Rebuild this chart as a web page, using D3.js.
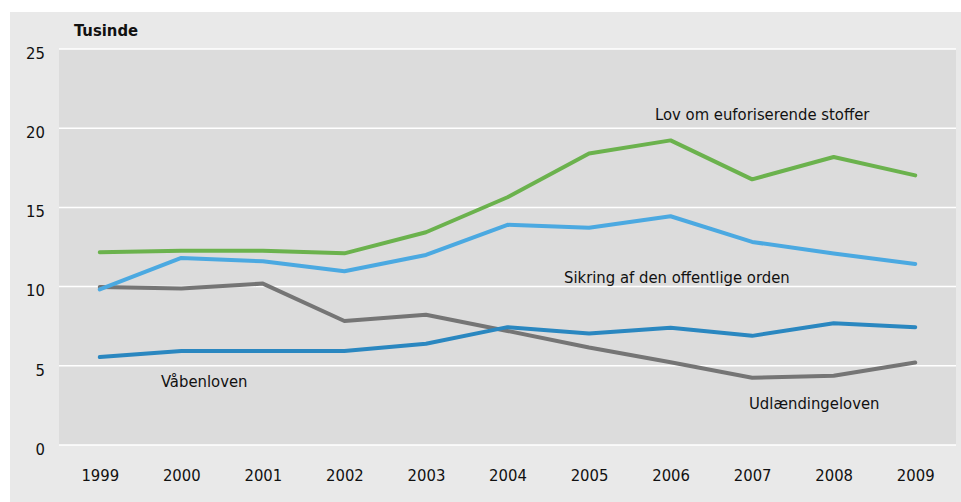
<!DOCTYPE html>
<html>
<head>
<meta charset="utf-8">
<script src="https://cdn.jsdelivr.net/npm/d3@7"></script>
<style>
  body { margin: 0; background: #fff; }
  svg text { font-family: "Liberation Sans Narrow", "DejaVu Sans Condensed", "Liberation Sans", sans-serif; fill: #111; }
</style>
</head>
<body>
<div id="chart"></div>
<script>
// years on the x axis
var years = ["1999","2000","2001","2002","2003","2004","2005","2006","2007","2008","2009"];
var yTicks = [0, 5, 10, 15, 20, 25];

// values in thousands
var euforiserende = [12.17, 12.27, 12.27, 12.1, 13.43, 15.64, 18.4, 19.23, 16.77, 18.18, 17.02];
var offentligOrden = [9.82, 11.81, 11.6, 10.97, 12.0, 13.9, 13.72, 14.44, 12.82, 12.09, 11.43];
var udlaendinge = [9.98, 9.88, 10.19, 7.83, 8.22, 7.2, 6.15, 5.23, 4.24, 4.37, 5.21];
var vaaben = [5.55, 5.93, 5.93, 5.93, 6.39, 7.44, 7.04, 7.4, 6.89, 7.69, 7.44];

var width = 961, height = 502;
var margin = {top: 49, left: 59, right: 5, bottom: 57};
var fs = 16.5;

var svg = d3.select("#chart")
  .append("svg")
  .attr("width", width)
  .attr("height", height);

// outer panel
svg.append("rect")
  .attr("x", 10).attr("y", 12)
  .attr("width", width - 10).attr("height", height - 12)
  .attr("fill", "#e9e9e9");

var x = d3.scalePoint()
  .domain(years)
  .range([margin.left, width - margin.right])
  .padding(0.5);

var y = d3.scaleLinear()
  .domain([0, 25])
  .range([height - margin.bottom, margin.top]);

// plot area
svg.append("rect")
  .attr("x", margin.left).attr("y", y(25))
  .attr("width", width - margin.right - margin.left)
  .attr("height", y(0) - y(25))
  .attr("fill", "#dcdcdc");

// grid lines
svg.selectAll(".grid")
  .data(yTicks)
  .enter().append("line")
  .attr("x1", margin.left)
  .attr("x2", width - margin.right)
  .attr("y1", d => y(d))
  .attr("y2", d => y(d))
  .attr("stroke", "#fff")
  .attr("stroke-width", 1.5);

// y axis labels
var yAxis = svg.append("g")
  .attr("transform", "translate(" + (margin.left - 14) + ",4)")
  .call(d3.axisLeft(y).tickValues(yTicks).tickSize(0).tickPadding(0));
yAxis.select(".domain").remove();
yAxis.selectAll("text").attr("font-size", fs).attr("fill", "#111")
  .style("font-family", "'Liberation Sans Narrow', 'DejaVu Sans Condensed', sans-serif");

// x axis labels
var xAxis = svg.append("g")
  .attr("transform", "translate(0," + (y(0) + 24) + ")")
  .call(d3.axisBottom(x).tickSize(0).tickPadding(0));
xAxis.select(".domain").remove();
xAxis.selectAll("text").attr("font-size", fs).attr("fill", "#111")
  .style("font-family", "'Liberation Sans Narrow', 'DejaVu Sans Condensed', sans-serif");

svg.append("text")
  .attr("x", 74).attr("y", 36)
  .attr("font-size", fs)
  .attr("font-weight", "bold")
  .text("Tusinde");

var series = [
  {name: "Udlændingeloven", values: udlaendinge, color: "#757575"},
  {name: "Våbenloven", values: vaaben, color: "#2a87c0"},
  {name: "Sikring af den offentlige orden", values: offentligOrden, color: "#4ba9e1"},
  {name: "Lov om euforiserende stoffer", values: euforiserende, color: "#6bb24d"}
];

var line = d3.line()
  .x((d, i) => x(years[i]))
  .y(d => y(d));

svg.selectAll(".series")
  .data(series)
  .enter().append("path")
  .attr("class", "series")
  .attr("d", d => line(d.values))
  .attr("fill", "none")
  .attr("stroke", d => d.color)
  .attr("stroke-width", 4)
  .attr("stroke-linecap", "round")
  .attr("stroke-linejoin", "round");

// series labels
var labels = [
  {text: "Lov om euforiserende stoffer", x: 655, y: 120},
  {text: "Sikring af den offentlige orden", x: 564, y: 283},
  {text: "Våbenloven", x: 161, y: 387},
  {text: "Udlændingeloven", x: 749, y: 409}
];

svg.selectAll(".lbl")
  .data(labels)
  .enter().append("text")
  .attr("x", d => d.x)
  .attr("y", d => d.y)
  .attr("font-size", fs)
  .text(d => d.text);
</script>
</body>
</html>
